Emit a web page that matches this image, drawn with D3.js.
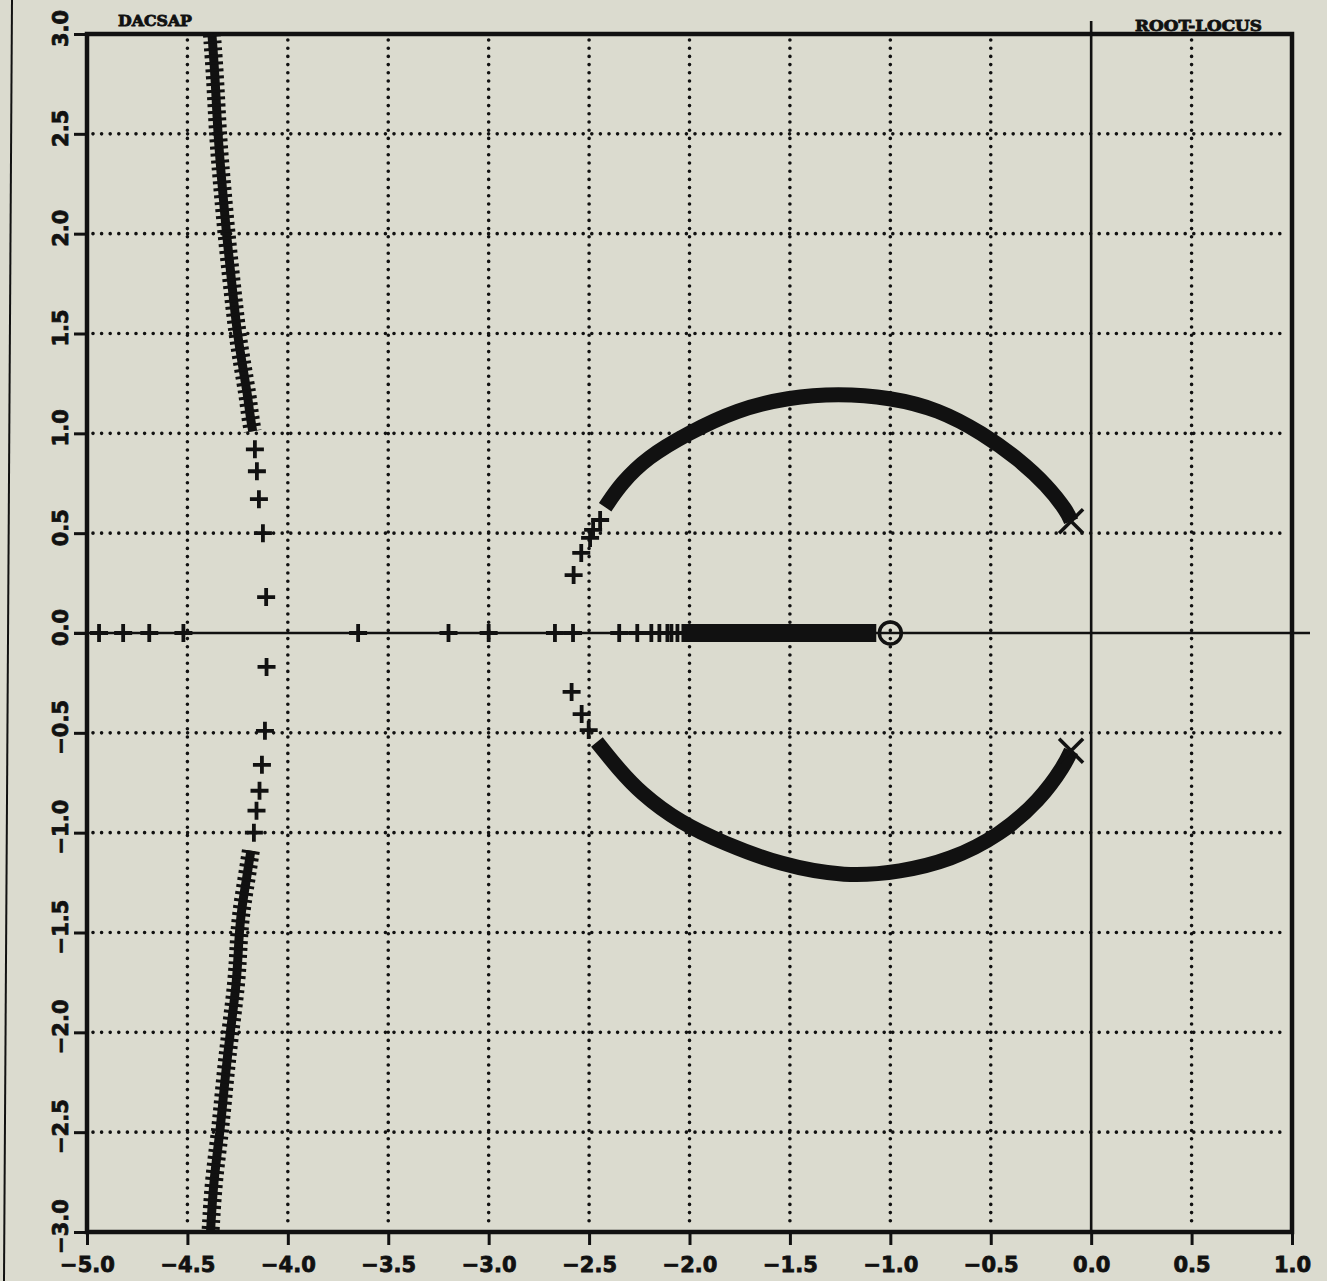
<!DOCTYPE html>
<html>
<head>
<meta charset="utf-8">
<script src="https://cdn.jsdelivr.net/npm/d3@7"></script>
<style>
  body { margin: 0; background: #dbdbcf; }
  text { font-family: "DejaVu Sans", sans-serif; font-weight: bold; fill: #111; }
</style>
</head>
<body>
<div id="chart"></div>
<script>
var width = 1327, height = 1281;

// axis ticks
var xTicks = [-5.0, -4.5, -4.0, -3.5, -3.0, -2.5, -2.0, -1.5, -1.0, -0.5, 0.0, 0.5, 1.0];
var yTicks = [-3.0, -2.5, -2.0, -1.5, -1.0, -0.5, 0.0, 0.5, 1.0, 1.5, 2.0, 2.5, 3.0];

// open-loop poles and zeros
var poles = [[-0.10, 0.56], [-0.10, -0.59]];
var zeros = [[-1.0, 0.0]];

// root locus, real axis: separate markers and the dense run
var realAxisMarks = [-4.94, -4.82, -4.69, -4.52, -3.65, -3.20, -3.00, -2.67, -2.58,
                     -2.35, -2.26, -2.19, -2.15, -2.11, -2.09, -2.06];
var realAxisBand = [-2.04, -1.07];

// far left branches
var leftUpperBand = [[-4.378, 3.0], [-4.361, 2.77], [-4.349, 2.50], [-4.328, 2.25], [-4.306, 2.0],
                     [-4.279, 1.75], [-4.252, 1.50], [-4.226, 1.34], [-4.200, 1.19], [-4.190, 1.10], [-4.175, 1.01]];
var leftUpperMarks = [[-4.164, 0.92], [-4.154, 0.81], [-4.144, 0.67], [-4.124, 0.50], [-4.108, 0.18]];
var leftLowerMarks = [[-4.106, -0.17], [-4.114, -0.49], [-4.129, -0.66], [-4.141, -0.79], [-4.156, -0.89], [-4.169, -1.0]];
var leftLowerBand = [[-4.184, -1.09], [-4.207, -1.24], [-4.232, -1.39], [-4.245, -1.54], [-4.253, -1.74],
                     [-4.286, -1.99], [-4.314, -2.24], [-4.337, -2.50], [-4.370, -2.74], [-4.385, -3.0]];

// complex pair branches (round the zero)
var arcUpperBand = [[-0.10, 0.56], [-0.12, 0.61], [-0.22, 0.74], [-0.36, 0.87], [-0.54, 1.00],
                    [-0.76, 1.12], [-1.00, 1.18], [-1.26, 1.20], [-1.51, 1.18], [-1.76, 1.12],
                    [-2.01, 1.00], [-2.21, 0.88], [-2.34, 0.75], [-2.42, 0.63]];
var arcUpperMarks = [[-2.445, 0.566], [-2.480, 0.516], [-2.495, 0.476], [-2.539, 0.401], [-2.577, 0.290]];
var arcLowerMarks = [[-2.587, -0.295], [-2.537, -0.406], [-2.502, -0.486]];
var arcLowerBand = [[-2.461, -0.546], [-2.421, -0.596], [-2.361, -0.671], [-2.245, -0.801], [-2.045, -0.951],
                    [-1.830, -1.052], [-1.546, -1.162], [-1.222, -1.222], [-0.949, -1.197], [-0.700, -1.137],
                    [-0.453, -1.012], [-0.254, -0.836], [-0.132, -0.661], [-0.10, -0.59]];

var ink = "#111";

var svg = d3.select("#chart").append("svg")
    .attr("width", width)
    .attr("height", height);

svg.append("rect").attr("width", width).attr("height", height).attr("fill", "#dbdbcf");

// page edge line from the scan
svg.append("line")
    .attr("x1", 12).attr("y1", 0).attr("x2", 4).attr("y2", height)
    .attr("stroke", ink).attr("stroke-width", 2);

var x = d3.scaleLinear().domain([-5, 1]).range([87, 1292]);
var y = d3.scaleLinear().domain([-3, 3]).range([1232, 34]);

function fmt(d) {
    return d < 0 ? "\u2212" + d3.format(".1f")(-d) : d3.format(".1f")(d);
}

// dotted grid
var grid = svg.append("g");
grid.selectAll(".gx")
    .data(xTicks.filter(function(d) { return d != -5 && d != 0 && d != 1; }))
    .enter().append("line")
    .attr("x1", function(d) { return x(d); }).attr("x2", function(d) { return x(d); })
    .attr("y1", y(3) + 6).attr("y2", y(-3) - 4)
    .attr("stroke", ink).attr("stroke-width", 3.6)
    .attr("stroke-linecap", "round").attr("stroke-dasharray", "0 8.2");
grid.selectAll(".gy")
    .data(yTicks.filter(function(d) { return d != -3 && d != 0 && d != 3; }))
    .enter().append("line")
    .attr("y1", function(d) { return y(d); }).attr("y2", function(d) { return y(d); })
    .attr("x1", x(-5) + 6).attr("x2", x(1) - 4)
    .attr("stroke", ink).attr("stroke-width", 3.6)
    .attr("stroke-linecap", "round").attr("stroke-dasharray", "0 8.6");

// axes
var xAxis = d3.axisBottom(x).tickValues(xTicks).tickSize(13).tickPadding(8).tickFormat(fmt);
var gx = svg.append("g").attr("transform", "translate(0," + y(-3) + ")").call(xAxis);
gx.select(".domain").remove();
gx.selectAll(".tick line").attr("stroke", ink).attr("stroke-width", 3);
gx.selectAll(".tick text")
    .attr("fill", ink).attr("stroke", ink).attr("stroke-width", 0.8)
    .style("font-size", "21px").attr("dy", "0.9em");

var yAxis = d3.axisLeft(y).tickValues(yTicks).tickSize(13).tickFormat(fmt);
var gy = svg.append("g").attr("transform", "translate(" + x(-5) + ",0)").call(yAxis);
gy.select(".domain").remove();
gy.selectAll(".tick line").attr("stroke", ink).attr("stroke-width", 3);
gy.selectAll(".tick text")
    .attr("fill", ink).attr("stroke", ink).attr("stroke-width", 0.8)
    .style("font-size", "21px")
    .attr("x", null)
    .attr("text-anchor", "middle")
    .attr("transform", "translate(-27,-6) rotate(-90)")
    .attr("dy", "0.36em");

// frame
svg.append("rect")
    .attr("x", x(-5)).attr("y", y(3))
    .attr("width", x(1) - x(-5)).attr("height", y(-3) - y(3))
    .attr("fill", "none").attr("stroke", ink).attr("stroke-width", 4.5);

// real and imaginary axes
svg.append("line")
    .attr("x1", x(-5) - 13).attr("x2", x(1) + 18)
    .attr("y1", y(0)).attr("y2", y(0))
    .attr("stroke", ink).attr("stroke-width", 2.6);
svg.append("line")
    .attr("x1", x(0)).attr("x2", x(0))
    .attr("y1", y(3) - 13).attr("y2", y(-3))
    .attr("stroke", ink).attr("stroke-width", 2.6);

// titles
svg.append("text").attr("x", 118).attr("y", 26)
    .attr("textLength", 74).attr("lengthAdjust", "spacingAndGlyphs")
    .attr("stroke", ink).attr("stroke-width", 0.8)
    .style("font-family", "'DejaVu Serif', serif").style("font-size", "14px")
    .text("DACSAP");
svg.append("text").attr("x", 1135).attr("y", 31)
    .attr("textLength", 127).attr("lengthAdjust", "spacingAndGlyphs")
    .attr("stroke", ink).attr("stroke-width", 0.8)
    .style("font-family", "'DejaVu Serif', serif").style("font-size", "14px")
    .text("ROOT-LOCUS");

var line = d3.line()
    .x(function(d) { return x(d[0]); })
    .y(function(d) { return y(d[1]); })
    .curve(d3.curveBasis);

var locus = svg.append("g");

// dense branches near the edge: stacked plus marks
[leftUpperBand, leftLowerBand].forEach(function(pts) {
    locus.append("path").attr("d", line(pts))
        .attr("fill", "none").attr("stroke", ink).attr("stroke-width", 9);
    locus.append("path").attr("d", line(pts))
        .attr("fill", "none").attr("stroke", ink).attr("stroke-width", 18)
        .attr("stroke-dasharray", "3 4");
});

// circle branches
[arcUpperBand, arcLowerBand].forEach(function(pts) {
    locus.append("path").attr("d", line(pts))
        .attr("fill", "none").attr("stroke", ink).attr("stroke-width", 15);
});

// dense run on real axis
locus.append("line")
    .attr("x1", x(realAxisBand[0])).attr("x2", x(realAxisBand[1]))
    .attr("y1", y(0)).attr("y2", y(0))
    .attr("stroke", ink).attr("stroke-width", 18);

// plus markers
var plusPath = "M-9,0H9M0,-9V9";
var markPts = leftUpperMarks.concat(leftLowerMarks, arcUpperMarks, arcLowerMarks,
    realAxisMarks.map(function(d) { return [d, 0]; }));
locus.selectAll(".plus")
    .data(markPts)
    .enter().append("path")
    .attr("class", "plus")
    .attr("d", plusPath)
    .attr("transform", function(d) { return "translate(" + x(d[0]) + "," + y(d[1]) + ")"; })
    .attr("stroke", ink).attr("stroke-width", 3.8).attr("fill", "none");

// poles
locus.selectAll(".pole")
    .data(poles)
    .enter().append("path")
    .attr("d", "M-12,-12L12,12M-12,12L12,-12")
    .attr("transform", function(d) { return "translate(" + x(d[0]) + "," + y(d[1]) + ")"; })
    .attr("stroke", ink).attr("stroke-width", 3.5).attr("fill", "none");

// zeros
locus.selectAll(".zero")
    .data(zeros)
    .enter().append("circle")
    .attr("cx", function(d) { return x(d[0]); })
    .attr("cy", function(d) { return y(d[1]); })
    .attr("r", 11)
    .attr("fill", "none").attr("stroke", ink).attr("stroke-width", 3.5);
</script>
</body>
</html>
